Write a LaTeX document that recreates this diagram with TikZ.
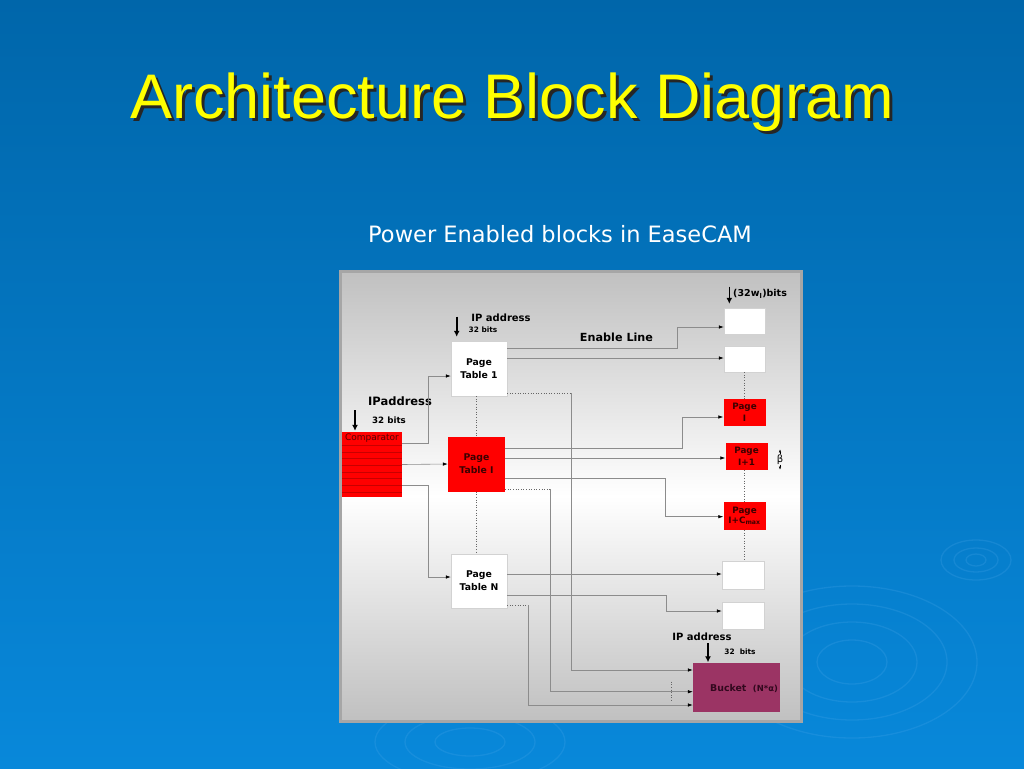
\documentclass[tikz,border=0pt]{standalone}
\usepackage{fontspec}
\setmainfont{DejaVu Sans}
\newfontfamily\titlefont{Liberation Sans}
\usetikzlibrary{arrows.meta}

\definecolor{bgtop}{RGB}{0,102,170}
\definecolor{bgbot}{RGB}{8,136,218}
\definecolor{ripple}{RGB}{80,170,235}
\definecolor{panelgray}{RGB}{192,192,192}
\definecolor{framegray}{RGB}{166,166,166}
\definecolor{linegray}{RGB}{140,140,140}
\definecolor{boxred}{RGB}{255,0,0}
\definecolor{stripe}{RGB}{200,0,0}
\definecolor{darkred}{RGB}{60,0,0}
\definecolor{bucketc}{RGB}{155,52,100}
\definecolor{bucketink}{RGB}{50,8,30}
\definecolor{titleyellow}{RGB}{255,255,0}

\tikzset{
  blk/.style={draw=gray!35,fill=white,inner sep=0pt,align=center,font=\fontsize{9.3}{13}\selectfont\bfseries},
  redblk/.style={blk,draw=none,fill=boxred,text=darkred},
  pagetxt/.style={font=\fontsize{8.8}{11.5}\selectfont\bfseries},
  link/.style={linegray,line width=0.6pt,-{Latex[black,length=5pt,width=3.5pt]}},
  dots/.style={black!60,dotted,line width=0.6pt},
  feed/.style={black,line width=1.6pt,-{Latex[length=6pt,width=6pt]}},
  lbl/.style={inner sep=0pt,font=\bfseries},
  rip/.style={ripple,opacity=0.22,line width=1.3pt}
}

\begin{document}
\begin{tikzpicture}[x=1pt,y=-1pt]
  \shade[top color=bgtop,bottom color=bgbot] (0,0) rectangle (1024,768);
  \useasboundingbox (0,0) rectangle (1024,768);

  \draw[rip] (976,560) ellipse [x radius=10,y radius=6];
  \draw[rip] (976,560) ellipse [x radius=22,y radius=12];
  \draw[rip] (976,560) ellipse [x radius=35,y radius=20];
  \draw[rip] (852,662) ellipse [x radius=35,y radius=22];
  \draw[rip] (852,662) ellipse [x radius=65,y radius=40];
  \draw[rip] (852,662) ellipse [x radius=95,y radius=58];
  \draw[rip] (852,662) ellipse [x radius=125,y radius=76];
  \draw[rip] (470,742) ellipse [x radius=35,y radius=14];
  \draw[rip] (470,742) ellipse [x radius=65,y radius=27];
  \draw[rip] (470,742) ellipse [x radius=95,y radius=40];

  \node[anchor=base,text=black!85,font=\titlefont\fontsize{63}{70}\selectfont] (titleshadow) at (515,121) {Architecture Block Diagram};
  \node[anchor=base,text=titleyellow,font=\titlefont\fontsize{63}{70}\selectfont] (title) at (512,118) {Architecture Block Diagram};
  \node[anchor=base,text=white,font=\fontsize{22.5}{28}\selectfont] (subtitle) at (560,242) {Power Enabled blocks in EaseCAM};

  \shade[top color=panelgray,bottom color=panelgray,middle color=white] (340,271) rectangle (801,721);
  \draw[framegray,line width=3pt] (340,271) rectangle (801,721);

  \node[redblk,minimum width=60,minimum height=65] (cmp) at (372,464.5) {};
  \foreach \y in {445,452,458,465,472,478,485,492}
    \draw[stripe,line width=0.7pt] (cmp.west |- 0,\y) -- (cmp.east |- 0,\y);
  \node[anchor=north,text=darkred!85!red,inner sep=1.5pt,font=\fontsize{9}{10}\selectfont] (cmplabel) at (cmp.north) {Comparator};

  \node[blk,minimum width=56,minimum height=55] (pt1) at (479,368.5) {Page\\Table 1};
  \node[redblk,minimum width=57,minimum height=55] (pti) at (476.5,464) {Page\\Table I};
  \node[blk,minimum width=56,minimum height=54] (ptn) at (479,581) {Page\\Table N};

  \node[blk,minimum width=41,minimum height=26] (w1) at (744.5,321) {};
  \node[blk,minimum width=41,minimum height=26] (w2) at (744.5,359) {};
  \node[redblk,pagetxt,minimum width=42,minimum height=27] (pgi) at (744.5,412.5) {Page\\I};
  \node[redblk,pagetxt,minimum width=42,minimum height=27] (pgi1) at (746.5,456.5) {Page\\I+1};
  \node[redblk,minimum width=42,minimum height=28,font=\fontsize{8.8}{10}\selectfont\bfseries] (pgc) at (744.5,516) {Page\\I+C\textsubscript{max}};
  \node[blk,minimum width=42,minimum height=28] (w5) at (743,575) {};
  \node[blk,minimum width=42,minimum height=27] (w6) at (743,615.5) {};
  \node[fill=bucketc,minimum width=87,minimum height=49] (bucket) at (736.5,687.5) {};
  \node[lbl,text=bucketink,font=\fontsize{9.4}{11}\selectfont\bfseries] (bucketlbl) at (744,688.5) {Bucket\ \ {\fontsize{8.4}{10}\selectfont(N*α)}};

  \node[lbl,font=\fontsize{10}{12}\selectfont\bfseries] (ip1) at (501,318) {IP address};
  \node[lbl,font=\fontsize{7.4}{9}\selectfont\bfseries] (bits1) at (483,330) {32 bits};
  \node[lbl,font=\fontsize{11.5}{13}\selectfont\bfseries] (ipc) at (400,401.7) {IPaddress};
  \node[lbl,font=\fontsize{8.7}{10}\selectfont\bfseries] (bitsc) at (389,420) {32 bits};
  \node[lbl,font=\fontsize{11.2}{13}\selectfont\bfseries] (enable) at (616.5,337) {Enable Line};
  \node[lbl,anchor=west,font=\fontsize{9.5}{11}\selectfont\bfseries] (bitsw) at (733,294) {(32w\textsubscript{l})bits};
  \node[lbl,font=\fontsize{10}{12}\selectfont\bfseries] (ipb) at (702,637) {IP address};
  \node[lbl,font=\fontsize{7.4}{9}\selectfont\bfseries] (bitsb) at (740,652) {32\ \ bits};
  \node[inner sep=0pt,font=\fontsize{10}{12}\selectfont] (beta) at (780,459.5) {β};

  \coordinate (in1) at (456.7,316.7);
  \coordinate (inc) at (355,410);
  \coordinate (inw) at (729.3,286.7);
  \coordinate (inb) at (708,643);
  \draw[feed,shorten >=4pt] (in1) -- (in1 |- pt1.north);
  \draw[feed,shorten >=1pt] (inc) -- (inc |- cmp.north);
  \draw[feed,shorten >=4pt] (inw) -- (inw |- w1.north);
  \draw[feed,shorten >=0.5pt] (inb) -- (inb |- bucket.north);
  \draw[black,line width=0.4pt,-{Latex[length=3pt,width=2.5pt]}] (beta.north) -- ++(0,-5);
  \draw[black,line width=0.4pt,-{Latex[length=3pt,width=2.5pt]}] (beta.south) -- ++(0,5);

  \draw[link] (cmp.east |- 0,443) -- (428,443) |- (pt1.west |- 0,376);
  \draw[link] (cmp.east) -- (pti.west);
  \draw[link] (cmp.east |- 0,485) -- (428,485) |- (ptn.west |- 0,577);

  \draw[link] (pt1.east |- 0,348) -- (677,348) |- (w1.west |- 0,327);
  \draw[link] (pt1.east |- 0,358) -- (w2.west |- 0,358);
  \coordinate (j1) at (571,393);
  \draw[dots] (pt1.east |- j1) -- (j1);
  \draw[link] (j1) |- (bucket.west |- 0,670);

  \draw[link] (pti.east |- 0,448) -- (682.7,448) |- (pgi.west |- 0,417);
  \draw[link] (pti.east |- 0,458) -- (pgi1.west |- 0,458);
  \draw[link] (pti.east |- 0,478) -- (665,478) |- (pgc.west |- 0,516.7);
  \coordinate (j2) at (550,489);
  \draw[dots] (pti.east |- j2) -- (j2);
  \draw[link] (j2) |- (bucket.west |- 0,691.7);

  \draw[link] (ptn.east |- 0,574) -- (w5.west |- 0,574);
  \draw[link] (ptn.east |- 0,595) -- (666.7,595) |- (w6.west |- 0,611);
  \coordinate (j3) at (528,605);
  \draw[dots] (ptn.east |- j3) -- (j3);
  \draw[link] (j3) |- (bucket.west |- 0,705);

  \draw[dots] (pti.north |- pt1.south) -- (pti.north);
  \draw[dots] (pti.south) -- (pti.south |- ptn.north);
  \draw[dots] (w2.south) -- (w2.south |- pgi.north);
  \draw[dots] (pgc.north |- pgi1.south) -- (pgc.north);
  \draw[dots] (pgc.south) -- (pgc.south |- w5.north);
  \draw[dots] (671,681.7) -- (671,701.7);
\end{tikzpicture}
\end{document}
